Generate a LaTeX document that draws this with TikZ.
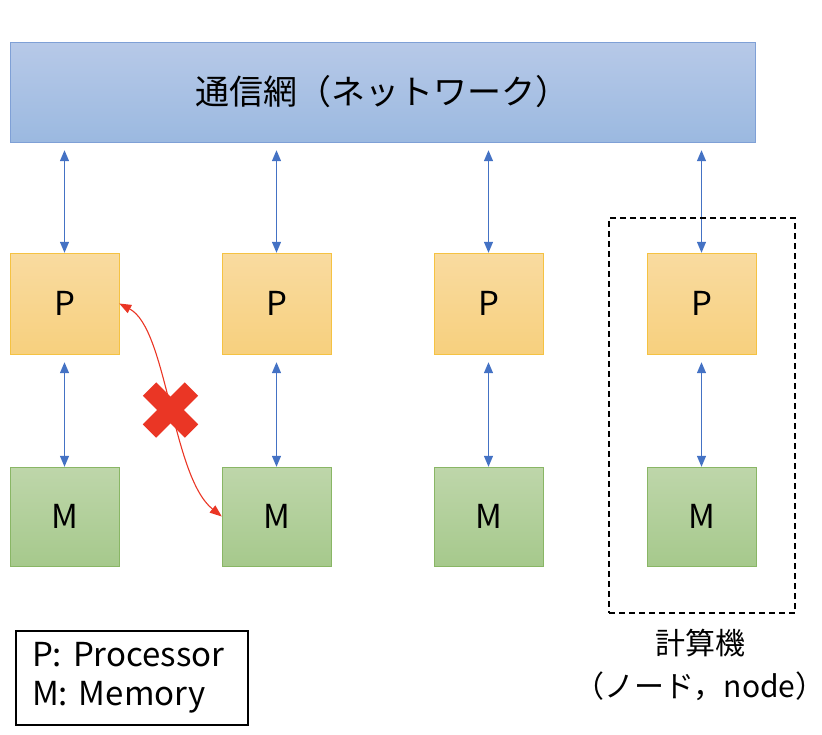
\documentclass[tikz,border=0pt]{standalone}
\usepackage{fontspec}
\setmainfont{Noto Sans CJK JP}
\usetikzlibrary{arrows.meta,positioning}
\definecolor{netline}{RGB}{127,160,214}
\definecolor{nettop}{RGB}{183,201,232}
\definecolor{netbot}{RGB}{155,185,224}
\definecolor{procline}{RGB}{245,194,66}
\definecolor{proctop}{RGB}{249,219,160}
\definecolor{procbot}{RGB}{247,208,126}
\definecolor{memline}{RGB}{137,182,101}
\definecolor{memtop}{RGB}{190,214,170}
\definecolor{membot}{RGB}{166,201,140}
\definecolor{linkblue}{RGB}{68,114,196}
\definecolor{xred}{RGB}{234,54,37}
\begin{document}
\begin{tikzpicture}[x=1pt,y=-1pt,
  net/.style={draw=netline,top color=nettop,bottom color=netbot,minimum width=745pt,minimum height=100pt,font=\fontsize{34}{40}\selectfont},
  proc/.style={draw=procline,top color=proctop,bottom color=procbot,minimum width=109pt,minimum height=101pt,font=\fontsize{33}{38}\selectfont},
  mem/.style={draw=memline,top color=memtop,bottom color=membot,minimum width=109pt,minimum height=99pt,font=\fontsize{33}{38}\selectfont},
  link/.style={linkblue,line width=1.2pt,{Triangle[length=11pt,width=9pt]}-{Triangle[length=11pt,width=9pt]},shorten <=8pt},
  redlink/.style={xred,line width=1.1pt,{Triangle[length=12pt,width=9pt]}-{Triangle[length=12pt,width=9pt]}},
  xmark/.style={xred,line width=19pt,line cap=butt}]
\useasboundingbox (0,0) rectangle (822,734);
\node[net] (net) at (382.5,92) {通信網（ネットワーク）};
\foreach \i/\x in {1/64.5,2/276.5,3/488.5,4/701.5} {
  \node[proc] (p\i) at (\x,303.5) {P};
  \node[mem] (m\i) at (\x,516.5) {M};
  \draw[link] (net.south -| p\i.north) -- (p\i.north);
  \draw[link] (p\i.south) -- (m\i.north);
}
\node[draw,dashed,dash pattern=on 6pt off 4pt,line width=1.4pt,minimum width=186pt,minimum height=395pt] (grp) at (702,415.5) {};
\node[below=15pt of grp,xshift=-2pt,inner sep=0pt,align=center,font=\fontsize{30}{43}\selectfont] (lbl) {計算機\\（ノード，node）};
\node[draw,line width=1.2pt,minimum width=232pt,minimum height=94pt,align=left,text width=200pt,font=\fontsize{33}{39}\selectfont] (key) at (132,678) {P: Processor\\M: Memory};
\draw[redlink] (p1.east) .. controls +(48,25) and +(-50,-40) .. (m2.west);
\coordinate (cx) at (170.5,410);
\draw[xmark] ([shift={(-21,-21)}]cx) -- ([shift={(21,21)}]cx);
\draw[xmark] ([shift={(-21,21)}]cx) -- ([shift={(21,-21)}]cx);
\end{tikzpicture}
\end{document}
